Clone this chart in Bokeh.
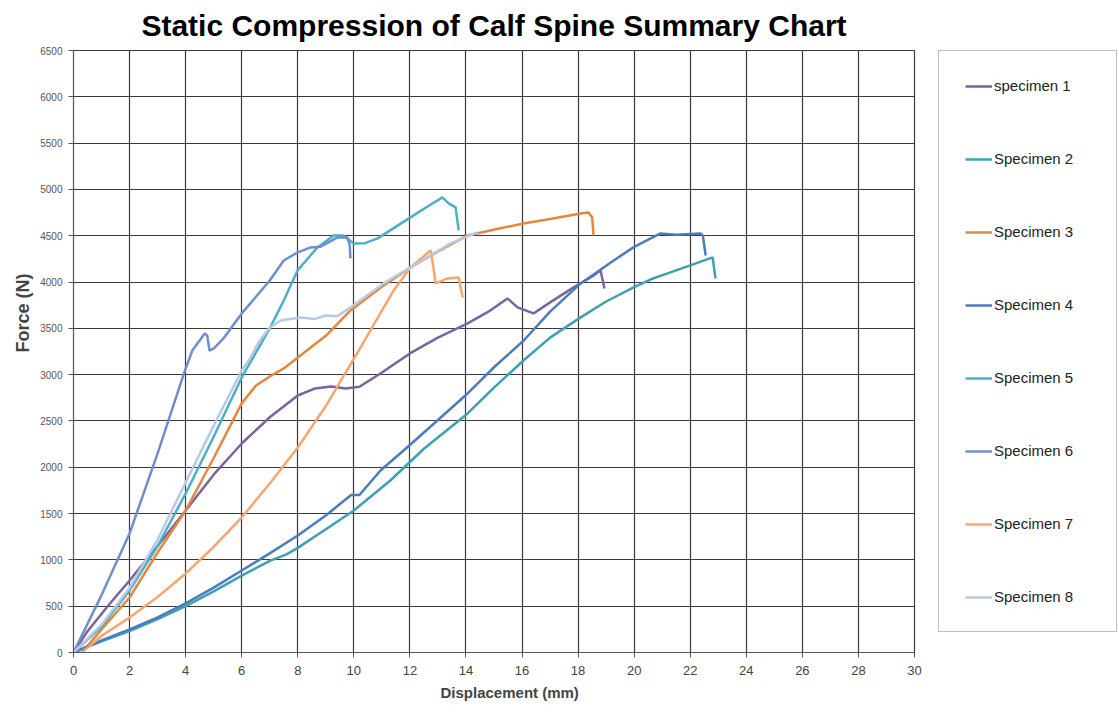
from bokeh.plotting import figure
from bokeh.models import Legend, LegendItem, Title, FixedTicker, Range1d
from bokeh.layouts import row
from bokeh.embed import file_html
from bokeh.resources import INLINE

# ---- data (displacement mm, force N) ----
names = ["specimen 1", "Specimen 2", "Specimen 3", "Specimen 4",
         "Specimen 5", "Specimen 6", "Specimen 7", "Specimen 8"]
colors = ["#7B62A0", "#3FA0B4", "#E3883E", "#4A7CC0",
          "#4BB0C6", "#6D8FCC", "#F9A66C", "#B9C9E3"]

x1 = [0, 0.5, 1.3, 2, 3, 4, 5, 6, 7, 8, 8.6, 9.2, 9.7, 10.2, 10.95, 12.0, 13.0, 14.06, 14.8, 15.48, 15.84, 16.41, 17.0, 17.84, 18.5, 18.8, 18.94]
y1 = [0, 230, 529, 778, 1150, 1533, 1920, 2257, 2540, 2775, 2850, 2873, 2850, 2870, 3013, 3229, 3400, 3553, 3680, 3823, 3726, 3661, 3780, 3942, 4060, 4125, 3930]

x2 = [0, 1, 2, 3, 4, 5, 6, 7, 7.6, 8, 9, 10, 11.3, 12.5, 14.06, 15, 16.05, 17, 18.09, 19, 19.98, 20.6, 21.19, 22.0, 22.8, 22.9]
y2 = [0, 120, 230, 360, 500, 660, 830, 990, 1060, 1130, 1330, 1533, 1857, 2200, 2581, 2860, 3153, 3400, 3618, 3790, 3942, 4030, 4093, 4180, 4266, 4039]

x3 = [0.3, 1, 2, 3, 4, 5, 6, 6.5, 7, 7.5, 8, 9, 9.88, 11, 12.02, 13, 14.06, 15.23, 16.05, 17, 18.09, 18.37, 18.5, 18.55]
y3 = [0, 250, 594, 1080, 1533, 2100, 2690, 2880, 2980, 3067, 3186, 3420, 3693, 3950, 4158, 4330, 4503, 4580, 4633, 4680, 4741, 4752, 4700, 4503]

x4 = [0, 1, 2, 3, 4, 5, 6, 7, 8, 9, 9.9, 10.2, 10.95, 12, 13, 14.06, 15, 16.06, 17, 18.09, 19.27, 20.0, 20.94, 21.5, 22.37, 22.45, 22.55]
y4 = [0, 130, 250, 380, 530, 700, 885, 1070, 1263, 1480, 1700, 1700, 1965, 2240, 2510, 2797, 3080, 3369, 3680, 3985, 4233, 4380, 4525, 4510, 4525, 4500, 4287]

x5 = [0, 1, 2, 3, 4, 5, 6, 7, 7.5, 7.99, 8.7, 9.28, 9.63, 9.99, 10.4, 10.85, 12.02, 12.6, 13.16, 13.38, 13.63, 13.74]
y5 = [0, 280, 670, 1150, 1717, 2330, 2970, 3500, 3800, 4125, 4374, 4503, 4503, 4417, 4420, 4471, 4698, 4810, 4914, 4849, 4806, 4557]

x6 = [0, 1, 2, 3, 4, 4.24, 4.42, 4.68, 4.77, 4.85, 5.0, 5.35, 6, 6.31, 7, 7.5, 8, 8.46, 8.8, 9.42, 9.77, 9.85, 9.88]
y6 = [0, 620, 1285, 2150, 3067, 3261, 3337, 3445, 3423, 3261, 3280, 3391, 3661, 3769, 4017, 4233, 4320, 4374, 4380, 4482, 4482, 4400, 4255]

x7 = [0.3, 1, 2, 3, 4, 5, 6, 7, 8, 9.06, 10.24, 11.42, 12.02, 12.74, 12.8, 12.92, 13.34, 13.74, 13.88]
y7 = [0, 180, 378, 600, 853, 1140, 1458, 1825, 2214, 2689, 3294, 3909, 4158, 4341, 4233, 3985, 4039, 4050, 3834]

x8 = [0, 1, 2, 3, 4, 5, 6, 6.31, 6.6, 7, 7.39, 8.1, 8.6, 9, 9.4, 9.88, 11.06, 12.02, 13.45, 14.41]
y8 = [0, 300, 700, 1220, 1836, 2450, 3045, 3180, 3350, 3510, 3585, 3618, 3600, 3640, 3630, 3726, 3985, 4158, 4417, 4536]

xs = [x1, x2, x3, x4, x5, x6, x7, x8]
ys = [y1, y2, y3, y4, y5, y6, y7, y8]

x_ticks = list(range(0, 31, 2))
y_ticks = list(range(0, 6501, 500))

FONT = "Liberation Sans"
H = 713

p = figure(width=935, height=H, output_backend="svg", toolbar_location=None,
           x_range=Range1d(0, 30), y_range=Range1d(0, 6500),
           min_border_left=73, min_border_top=50, min_border_right=21, min_border_bottom=61)

p.title.text = "Static Compression of Calf Spine Summary Chart"
p.title.text_font = FONT
p.title.text_font_size = "30px"
p.title.text_font_style = "bold"
p.title.text_color = "#000000"
p.title.align = "center"
p.title.vertical_align = "top"
p.title.standoff = 14

renderers = []
for i in range(8):
    r = p.line(xs[i], ys[i], line_color=colors[i], line_width=2.5)
    renderers.append(r)

# axes
p.xaxis.ticker = FixedTicker(ticks=x_ticks)
p.yaxis.ticker = FixedTicker(ticks=y_ticks)
for ax in (p.xaxis[0], p.yaxis[0]):
    ax.major_label_text_font = FONT
    ax.axis_line_color = "#555555"
    ax.major_tick_line_color = "#555555"
    ax.minor_tick_line_color = None
    ax.major_tick_out = 5
    ax.major_tick_in = 0
p.yaxis.major_label_text_font_size = "10px"
p.yaxis.major_label_text_color = "#555555"
p.xaxis.major_label_text_font_size = "13px"
p.xaxis.major_label_text_color = "#444444"
p.xaxis.major_label_standoff = 8
p.yaxis.major_label_standoff = 6

p.grid.grid_line_color = "#3a3a3a"
p.grid.grid_line_width = 1.2
p.outline_line_color = "#3a3a3a"
p.outline_line_width = 1.2
p.background_fill_color = "white"
p.border_fill_color = "white"

xlab = Title(text="Displacement (mm)", align="left", offset=367,
             text_font=FONT, text_font_size="15px", text_font_style="bold", standoff=8)
p.add_layout(xlab, "below")
ylab = Title(text="Force (N)", align="right", offset=223,
             text_font=FONT, text_font_size="18px", text_font_style="bold", standoff=10)
p.add_layout(ylab, "left")

# legend panel (separate canvas to the right of the chart)
pl = figure(width=184, height=H, output_backend="svg", toolbar_location=None,
            x_range=Range1d(1000, 1001), y_range=Range1d(100000, 100001),
            min_border_left=3, min_border_right=0, min_border_top=50, min_border_bottom=0)
pl.axis.visible = False
pl.grid.visible = False
pl.outline_line_color = None
# legend keys: one line per specimen, kept outside the visible range of this panel
leg_r = [pl.line(x=xs[i][:2], y=ys[i][:2], line_color=colors[i], line_width=2.5) for i in range(8)]
items = [LegendItem(label=names[i], renderers=[leg_r[i]]) for i in range(8)]
legend = Legend(items=items, location="top_left", margin=0, padding=26, spacing=56,
                label_height=16, glyph_height=16, glyph_width=27, label_standoff=2,
                label_width=96, label_text_font=FONT, label_text_font_size="15px",
                label_text_color="#222222", border_line_color="#808080",
                border_line_width=1.2, background_fill_color="white")
pl.add_layout(legend, "center")

layout = row(p, pl)
open("out.html", "w").write(file_html(layout, INLINE))
